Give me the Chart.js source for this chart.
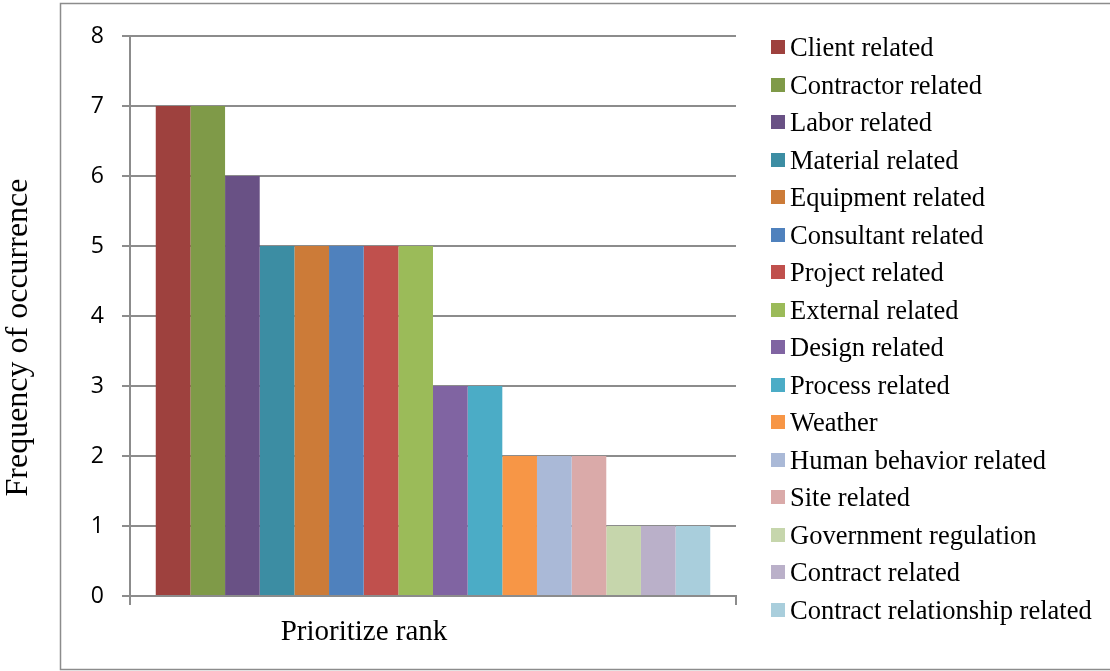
<!DOCTYPE html>
<html>
<head>
<meta charset="utf-8">
<title>Frequency of occurrence by delay factor</title>
<script src="https://cdn.jsdelivr.net/npm/chart.js@4.4.1/dist/chart.umd.min.js"></script>
<style>
  html, body { margin: 0; padding: 0; background: #ffffff; }
  canvas { display: block; }
</style>
</head>
<body>
<canvas id="chart" width="1110" height="671"></canvas>
<script>
// Category and series data
const categories = ['Prioritize rank'];
const factorNames = [
  'Client related',
  'Contractor related',
  'Labor related',
  'Material related',
  'Equipment related',
  'Consultant related',
  'Project related',
  'External related',
  'Design related',
  'Process related',
  'Weather',
  'Human behavior related',
  'Site related',
  'Government regulation',
  'Contract related',
  'Contract relationship related'
];
const frequencies = [7, 7, 6, 5, 5, 5, 5, 5, 3, 3, 2, 2, 2, 1, 1, 1];
const factorColors = [
  '#9E413E', '#7F9A48', '#695185', '#3C8DA3',
  '#CC7B38', '#4F81BD', '#C0504D', '#9BBB59',
  '#8064A2', '#4BACC6', '#F79646', '#AAB9D7',
  '#DAAAA9', '#C6D6AC', '#BAB0C9', '#A9CEDC'
];
const yAxisMin = 0;
const yAxisMax = 8;
const yAxisStep = 1;
const yAxisTitle = 'Frequency of occurrence';

const GRID = '#8c8c8c';
const SERIF = '"Liberation Serif", "Times New Roman", serif';
const SANS = '"Open Sans", "Liberation Sans", sans-serif';

const datasets = factorNames.map((name, i) => ({
  label: name,
  data: [frequencies[i]],
  backgroundColor: factorColors[i],
  borderWidth: 0,
  categoryPercentage: 0.915,
  barPercentage: 1.0
}));

// Frame, rotated y title and the side legend
const decorations = {
  id: 'decorations',
  beforeDraw(chart) {
    const ctx = chart.ctx;
    ctx.save();
    ctx.strokeStyle = GRID;
    ctx.lineWidth = 1.5;
    ctx.strokeRect(60.5, 3.5, 1070, 666);
    ctx.restore();
  },
  afterDraw(chart) {
    const ctx = chart.ctx;
    const area = chart.chartArea;
    ctx.save();
    // y axis title
    ctx.fillStyle = '#000000';
    ctx.font = '32px ' + SERIF;
    ctx.translate(26.5, 337.5);
    ctx.rotate(-Math.PI / 2);
    ctx.textAlign = 'center';
    ctx.textBaseline = 'alphabetic';
    ctx.fillText(yAxisTitle, 0, 0);
    ctx.restore();

    // legend
    ctx.save();
    ctx.font = '26.5px ' + SERIF;
    ctx.textAlign = 'left';
    ctx.textBaseline = 'alphabetic';
    const boxX = area.right + 35;
    const rowTop = area.top + 11;
    const rowStep = 37.5;
    chart.data.datasets.forEach((ds, i) => {
      const cy = rowTop + i * rowStep;
      ctx.fillStyle = ds.backgroundColor;
      ctx.fillRect(boxX, Math.round(cy - 7), 14, 14);
      ctx.fillStyle = '#000000';
      ctx.fillText(ds.label, boxX + 19, cy + 9);
    });
    ctx.restore();
  }
};

new Chart(document.getElementById('chart'), {
  type: 'bar',
  data: { labels: categories, datasets },
  plugins: [decorations],
  options: {
    responsive: false,
    animation: false,
    layout: { padding: { left: 0, top: 36, right: 374, bottom: 0 } },
    plugins: {
      legend: { display: false },
      tooltip: { enabled: false },
      title: { display: false }
    },
    scales: {
      x: {
        offset: true,
        grid: {
          display: true,
          offset: true,
          drawOnChartArea: false,
          drawTicks: true,
          tickLength: 9,
          color: GRID,
          lineWidth: 2
        },
        border: { display: true, color: GRID, width: 2 },
        ticks: {
          color: '#000000',
          font: { family: SERIF, size: 29 },
          padding: 10,
          labelOffset: -69,
          maxRotation: 0
        },
        afterFit(scale) { scale.height = 75; }
      },
      y: {
        min: yAxisMin,
        max: yAxisMax,
        grid: {
          color: GRID,
          lineWidth: 2,
          drawTicks: true,
          tickLength: 8
        },
        border: { display: true, color: GRID, width: 2 },
        ticks: {
          stepSize: yAxisStep,
          color: '#000000',
          font: { family: SANS, size: 23 },
          padding: 18
        },
        afterFit(scale) { scale.width = 130; }
      }
    }
  }
});
</script>
</body>
</html>
